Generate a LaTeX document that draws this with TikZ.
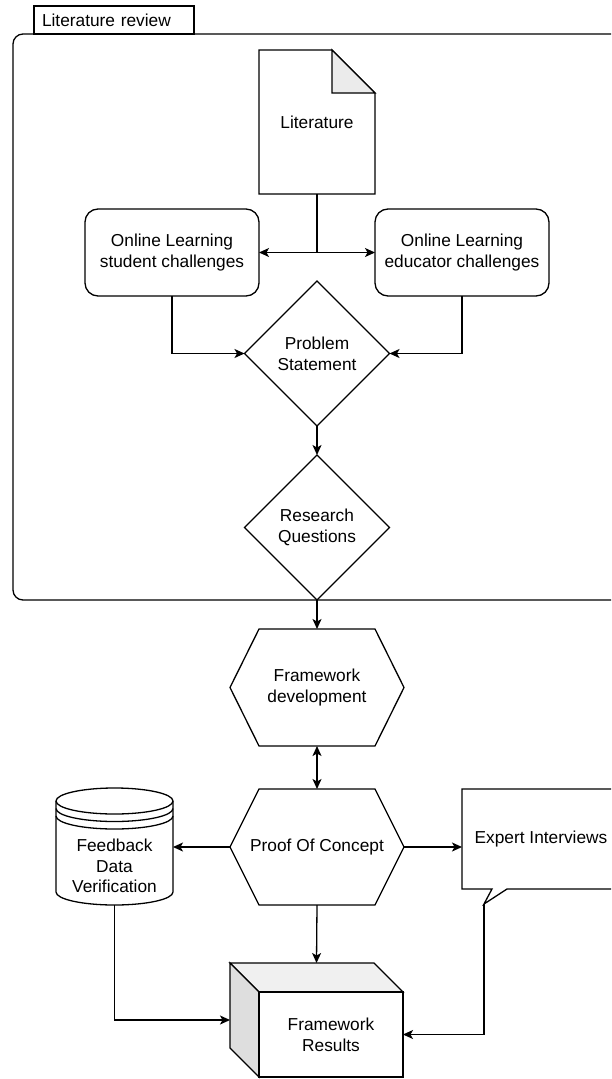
\documentclass[tikz,border=0pt]{standalone}
\usepackage{fontspec}
\setmainfont{Liberation Sans}
\usetikzlibrary{arrows.meta,shapes.geometric,calc}

% hexagon outline drawn round an (invisible) rectangular node
\newcommand\hexoutline[1]{%
  \draw[fill=white] (#1.west) -- ($(#1.north west)+(29,0)$) -- ($(#1.north east)+(-29,0)$)
    -- (#1.east) -- ($(#1.south east)+(-29,0)$) -- ($(#1.south west)+(29,0)$) -- cycle;}

\begin{document}
\begin{tikzpicture}[x=1pt,y=-1pt,line width=1.3pt,
  every node/.style={font=\fontsize{17.3}{20.8}\selectfont,align=center,inner sep=0pt,outer sep=0pt},
  area/.style n args={2}{minimum width=#1,minimum height=#2},
  frame/.style={draw,rounded corners=13pt,minimum width=174pt,minimum height=87pt},
  decision/.style={draw,diamond,aspect=1,minimum width=145pt,minimum height=145pt},
  arr/.style={-{Stealth[length=10pt,width=9pt,inset=2.5pt]}},
  biarr/.style={{Stealth[length=10pt,width=9pt,inset=2.5pt]}-{Stealth[length=10pt,width=9pt,inset=2.5pt]}},
  sheet/.style={fill=black!8},
  shade1/.style={fill=black!6},
  shade2/.style={fill=black!13}]

\useasboundingbox (0,0) rectangle (611,1079);
\clip (0,0) rectangle (611,1079);

% ---------- literature review group ----------
\node[draw,rounded corners=10pt,area={612pt}{566pt}] (review) at (319,317) {};
\node[draw,fill=white,area={160pt}{28pt},text width=144pt,align=left] (tab) at (114,20) {Literature review};

% document with folded corner
\node[area={116pt}{144pt}] (lit) at (317,122) {};
\draw[fill=white] (lit.south west) -- (lit.north west) -- ($(lit.north east)+(-43,0)$)
  -- ($(lit.north east)+(0,43)$) -- (lit.south east) -- cycle;
\draw[sheet] ($(lit.north east)+(-43,0)$) -- ($(lit.north east)+(0,43)$) -- ($(lit.north east)+(-43,43)$) -- cycle;
\node at (lit.center) {Literature};

\node[frame] (stud) at (172,252.5) {Online Learning\\student challenges};
\node[frame] (edu) at (462,252.5) {Online Learning\\educator challenges};

\node[decision] (ps) at (317,353.5) {Problem\\Statement};
\node[decision] (rq) at (317,527.5) {Research\\Questions};

\draw[arr] (lit.south) |- (stud.east);
\draw[arr] (lit.south) |- (edu.west);
\draw[arr] (stud.south) |- (ps.west);
\draw[arr] (edu.south) |- (ps.east);
\draw[arr] (ps.south) -- (rq.north);

% ---------- development ----------
\node[area={174pt}{117pt}] (fw) at (317,687.5) {};
\hexoutline{fw}
\node at (fw.center) {Framework\\development};

\node[area={174pt}{116pt}] (poc) at (317,847) {};
\hexoutline{poc}
\node at (poc.center) {Proof Of Concept};

\draw[arr] (rq.south) -- (fw.north);
\draw[biarr] (fw.south) -- (poc.north);

% data store
\node[area={117pt}{117pt}] (fb) at (114.5,846.5) {};
\draw[fill=white] (56,801) -- (56,892) arc[start angle=180,end angle=360,x radius=58.5pt,y radius=13pt] -- (173,801);
\draw[fill=white] (114.5,801) ellipse[x radius=58.5pt,y radius=13pt];
\draw (56,808.5) arc[start angle=180,end angle=360,x radius=58.5pt,y radius=13pt];
\draw (56,816) arc[start angle=180,end angle=360,x radius=58.5pt,y radius=13pt];
\node (fbtext) at (114.5,866) {Feedback\\Data\\Verification};

% callout
\node[area={158pt}{100pt}] (exp) at (541,839) {};
\coordinate (tip) at (484,904);
\draw[fill=white] (exp.north west) -- (exp.north east) -- (exp.south east) -- (507,889) -- (tip)
  -- (492,889) -- (exp.south west) -- cycle;
\node at (exp.center) {Expert Interviews};

% results cube
\node[area={173pt}{114pt}] (res) at (316.5,1020) {};
\draw[shade1] (230,963) -- (374,963) -- (403,992) -- (259,992) -- cycle;
\draw[shade2] (230,963) -- (259,992) -- (259,1077) -- (230,1048) -- cycle;
\node[draw,fill=white,area={144pt}{85pt}] (front) at (331,1034.5) {Framework\\Results};

\draw[arr] (poc.west) -- (poc.west -| fb.east);
\draw[arr] (poc.east) -- (poc.east -| exp.west);
\draw[arr] (poc.south) -- (res.north);
\draw[arr] (fb.south) |- (res.west);
\draw[arr] (tip) |- (front.east);

\end{tikzpicture}
\end{document}
